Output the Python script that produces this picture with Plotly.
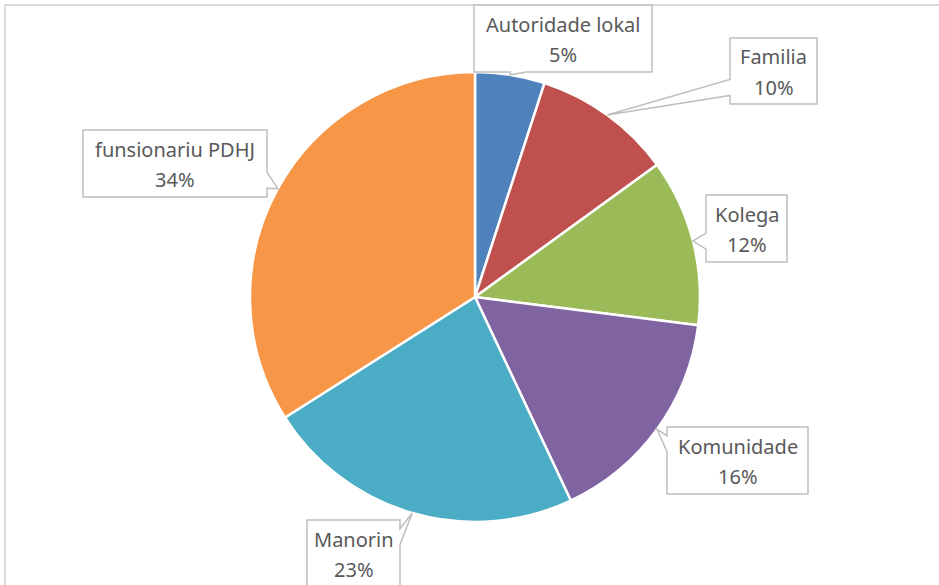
import math
import plotly.graph_objects as go

labels = ["Autoridade lokal", "Familia", "Kolega", "Komunidade", "Manorin", "funsionariu PDHJ"]
values = [5, 10, 12, 16, 23, 34]
colors = ["#4F81BD", "#C0504D", "#9BBB59", "#8064A2", "#4BACC6", "#F79646"]

# callout boxes in pixels: (left, right, top, bottom)
boxes = {
    "Autoridade lokal": (474, 652, 5, 72),
    "Familia": (730, 817, 38, 104),
    "Kolega": (706, 787, 195, 262),
    "Komunidade": (667, 808, 427, 494),
    "Manorin": (307, 400, 520, 587),
    "funsionariu PDHJ": (83, 267, 130, 197),
}

W, H = 939, 585
CX, CY, R = 475, 297, 225
TEXT = "#595959"
EDGE = "#BFBFBF"


def px(x):
    return x / W


def py(y):
    return 1 - y / H


fig = go.Figure(go.Pie(
    labels=labels,
    values=values,
    sort=False,
    direction="clockwise",
    rotation=0,
    marker=dict(colors=colors, line=dict(color="white", width=2.5)),
    textinfo="none",
    hoverinfo="label+percent",
    domain=dict(x=[px(CX - R), px(CX + R)], y=[py(CY + R), py(CY - R)]),
    showlegend=False,
))

shapes = [dict(
    type="rect", xref="paper", yref="paper",
    x0=px(5), x1=px(W + 10), y0=py(5), y1=py(H + 10),
    line=dict(color="#D9D9D9", width=2), fillcolor="rgba(0,0,0,0)",
)]
annotations = []

total = sum(values)
cum = 0
for lab, v in zip(labels, values):
    mid = (cum + v / 2) / total * 2 * math.pi
    cum += v
    tx = CX + R * math.sin(mid)
    ty = CY - R * math.cos(mid)
    x0, x1, y0, y1 = boxes[lab]
    w, h = x1 - x0, y1 - y0
    hw = 8
    # pick the side of the box facing the slice
    d = {"left": x0 - tx, "right": tx - x1, "top": y0 - ty, "bottom": ty - y1}
    side = max(d, key=d.get)
    if side in ("left", "right"):
        c = min(max(ty, y0 + 0.25 * h), y1 - 0.25 * h)
    else:
        c = min(max(tx, x0 + 0.25 * w), x1 - 0.25 * w)
    if side == "top":
        pts = [(x0, y0), (c - hw, y0), (tx, ty), (c + hw, y0), (x1, y0), (x1, y1), (x0, y1)]
    elif side == "right":
        pts = [(x0, y0), (x1, y0), (x1, c - hw), (tx, ty), (x1, c + hw), (x1, y1), (x0, y1)]
    elif side == "bottom":
        pts = [(x0, y0), (x1, y0), (x1, y1), (c + hw, y1), (tx, ty), (c - hw, y1), (x0, y1)]
    else:
        pts = [(x0, y0), (x1, y0), (x1, y1), (x0, y1), (x0, c + hw), (tx, ty), (x0, c - hw)]
    path = "M " + " L ".join(f"{px(a):.5f},{py(b):.5f}" for a, b in pts) + " Z"
    shapes.append(dict(
        type="path", xref="paper", yref="paper", path=path,
        fillcolor="white", line=dict(color=EDGE, width=1.5),
    ))
    mx = (x0 + x1) / 2
    my = (y0 + y1) / 2
    for txt, off in ((lab, -14), (f"{v / total * 100:.0f}%", 16)):
        annotations.append(dict(
            x=px(mx), y=py(my + off), xref="paper", yref="paper",
            text=txt, showarrow=False, xanchor="center", yanchor="middle",
            font=dict(family="Noto Sans", size=20, color=TEXT),
        ))

fig.update_layout(
    width=W, height=H,
    margin=dict(l=0, r=0, t=0, b=0),
    paper_bgcolor="white",
    shapes=shapes,
    annotations=annotations,
)

fig.write_html(
    "out.html",
    config={"displayModeBar": False},
    post_script="document.body.style.margin = '0';",
)
